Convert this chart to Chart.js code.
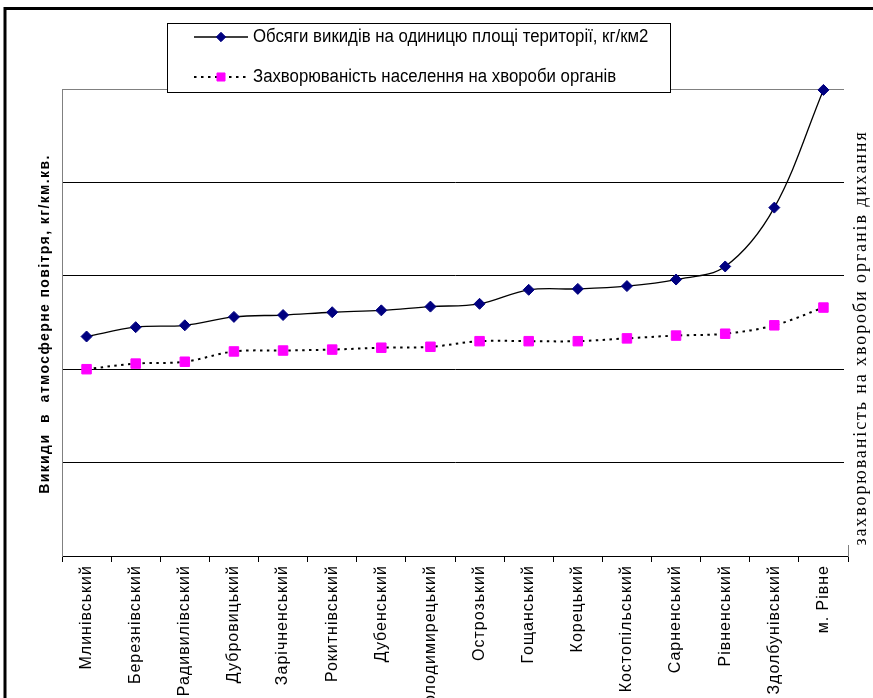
<!DOCTYPE html>
<html lang="uk">
<head>
<meta charset="utf-8">
<title>Викиди та захворюваність</title>
<script src="https://cdn.jsdelivr.net/npm/chart.js@4.4.1/dist/chart.umd.min.js"></script>
<style>
  html, body { margin: 0; padding: 0; background: #fff; }
  #wrap { position: relative; width: 873px; height: 698px; }
</style>
</head>
<body>
<div id="wrap"><canvas id="canvas" width="873" height="698"></canvas></div>
<script>
// райони області
var raiony = ['Млинівський', 'Березнівський', 'Радивилівський', 'Дубровицький',
  'Зарічненський', 'Рокитнівський', 'Дубенський', 'Володимирецький',
  'Острозький', 'Гощанський', 'Корецький', 'Костопільський',
  'Сарненський', 'Рівненський', 'Здолбунівський', 'м. Рівне'];

// викиди на одиницю площі (ліва вісь)
var vykydy = [2.35, 2.45, 2.47, 2.56, 2.58, 2.61, 2.63, 2.67,
  2.70, 2.85, 2.86, 2.89, 2.96, 3.10, 3.73, 4.99];

// захворюваність на хвороби органів дихання (права вісь)
var zakhvoruvanist = [2.00, 2.06, 2.08, 2.19, 2.20, 2.21, 2.23, 2.24,
  2.30, 2.30, 2.30, 2.33, 2.36, 2.38, 2.47, 2.66];

var yMin = 0, yMax = 5, yStep = 1;

var seriesNames = ['Обсяги викидів на одиницю площі території, кг/км2',
  'Захворюваність населення на хвороби органів'];
var leftTitle = 'Викиди  в  атмосферне повітря, кг/км.кв.';
var rightTitle = 'захворюваність на хвороби органів дихання';

var NAVY = '#000080';
var PINK = '#ff00ff';

// рамка, легенда і підписи осей
var decor = {
  id: 'decor',
  beforeDraw: function (chart) {
    chart.ctx.letterSpacing = '1px';
  },
  afterDraw: function (chart) {
    var ctx = chart.ctx;
    var area = chart.chartArea;
    ctx.save();
    ctx.letterSpacing = '0px';

    // біле поле під правим підписом
    ctx.fillStyle = '#fff';
    ctx.fillRect(area.right - 4, 80, 873 - area.right + 4, 545 - 80);

    // зовнішня рамка
    ctx.strokeStyle = '#000';
    ctx.lineWidth = 3;
    ctx.beginPath();
    ctx.moveTo(5, 698);
    ctx.lineTo(5, 8.5);
    ctx.lineTo(873, 8.5);
    ctx.stroke();

    // легенда
    ctx.fillStyle = '#fff';
    ctx.fillRect(167.5, 23.5, 503, 69);
    ctx.strokeStyle = '#000';
    ctx.lineWidth = 1;
    ctx.strokeRect(167.5, 23.5, 503, 69);

    var ds = chart.data.datasets;
    var rows = [37, 77];
    for (var i = 0; i < ds.length; i++) {
      var y = rows[i];
      ctx.save();
      ctx.strokeStyle = ds[i].borderColor;
      ctx.lineWidth = ds[i].borderWidth;
      ctx.setLineDash(ds[i].borderDash || []);
      ctx.beginPath();
      ctx.moveTo(194, y);
      ctx.lineTo(248, y);
      ctx.stroke();
      ctx.restore();

      ctx.save();
      ctx.fillStyle = ds[i].pointBackgroundColor;
      ctx.strokeStyle = ds[i].pointBorderColor;
      ctx.lineWidth = 1;
      Chart.helpers.drawPoint(ctx, {
        pointStyle: ds[i].pointStyle,
        radius: ds[i].pointRadius * 0.85,
        borderWidth: 1
      }, 221, y);
      ctx.restore();

      ctx.save();
      ctx.translate(253, y);
      ctx.scale(1, 1.07);
      ctx.fillStyle = '#000';
      ctx.font = '16.8px "Liberation Sans", Arial, sans-serif';
      ctx.textBaseline = 'middle';
      ctx.textAlign = 'left';
      ctx.fillText(ds[i].label, 0, 0);
      ctx.restore();
    }

    // лівий підпис осі
    ctx.save();
    ctx.translate(45, 324);
    ctx.rotate(-Math.PI / 2);
    ctx.letterSpacing = '1.4px';
    ctx.font = 'bold 14px "Liberation Sans", Arial, sans-serif';
    ctx.fillStyle = '#000';
    ctx.textAlign = 'center';
    ctx.textBaseline = 'middle';
    ctx.fillText(leftTitle, 0, 0);
    ctx.restore();

    // правий підпис осі
    ctx.save();
    ctx.translate(861, 338);
    ctx.rotate(-Math.PI / 2);
    ctx.letterSpacing = '1.9px';
    ctx.font = '18px "Liberation Serif", "Times New Roman", serif';
    ctx.fillStyle = '#000';
    ctx.textAlign = 'center';
    ctx.textBaseline = 'middle';
    ctx.fillText(rightTitle, 0, 0);
    ctx.restore();

    ctx.restore();
  }
};

var ctx = document.getElementById('canvas');
new Chart(ctx, {
  type: 'line',
  data: {
    labels: raiony,
    datasets: [{
      label: seriesNames[0],
      data: vykydy,
      yAxisID: 'y',
      borderColor: '#000',
      borderWidth: 1.3,
      tension: 0.35,
      pointStyle: 'rectRot',
      pointRadius: 5.5,
      pointBackgroundColor: NAVY,
      pointBorderColor: NAVY,
      pointBorderWidth: 1,
      clip: false
    }, {
      label: seriesNames[1],
      data: zakhvoruvanist,
      yAxisID: 'y1',
      borderColor: '#000',
      borderWidth: 2,
      borderDash: [2.5, 4.5],
      tension: 0.35,
      pointStyle: 'rect',
      pointRadius: 6.7,
      pointBackgroundColor: PINK,
      pointBorderColor: PINK,
      pointBorderWidth: 1,
      clip: false
    }]
  },
  options: {
    responsive: false,
    animation: false,
    devicePixelRatio: 1,
    layout: { padding: { top: 89, left: 0, right: 0, bottom: 0 } },
    plugins: {
      legend: { display: false },
      title: { display: false },
      tooltip: { enabled: false }
    },
    scales: {
      x: {
        offset: true,
        grid: {
          offset: true,
          drawOnChartArea: false,
          drawTicks: true,
          tickLength: 6,
          color: '#000'
        },
        border: { color: '#000', width: 1 },
        ticks: {
          autoSkip: false,
          minRotation: 90,
          maxRotation: 90,
          padding: 3,
          color: '#000',
          font: { family: '"Liberation Sans", Arial, sans-serif', size: 16 }
        },
        afterFit: function (s) { s.height = 698 - 556; }
      },
      y: {
        position: 'left',
        min: yMin,
        max: yMax,
        ticks: { display: false, stepSize: yStep },
        grid: {
          drawTicks: false,
          color: function (c) { return c.tick && c.tick.value === yMax ? '#808080' : '#000'; },
          lineWidth: 1
        },
        border: { color: '#808080', width: 1 },
        afterFit: function (s) { s.width = 62; }
      },
      y1: {
        position: 'right',
        min: yMin,
        max: yMax,
        ticks: { display: false, stepSize: yStep },
        grid: { display: false, drawTicks: false },
        border: { color: '#808080', width: 1 },
        afterFit: function (s) { s.width = 873 - 848; }
      }
    }
  },
  plugins: [decor]
});
</script>
</body>
</html>
